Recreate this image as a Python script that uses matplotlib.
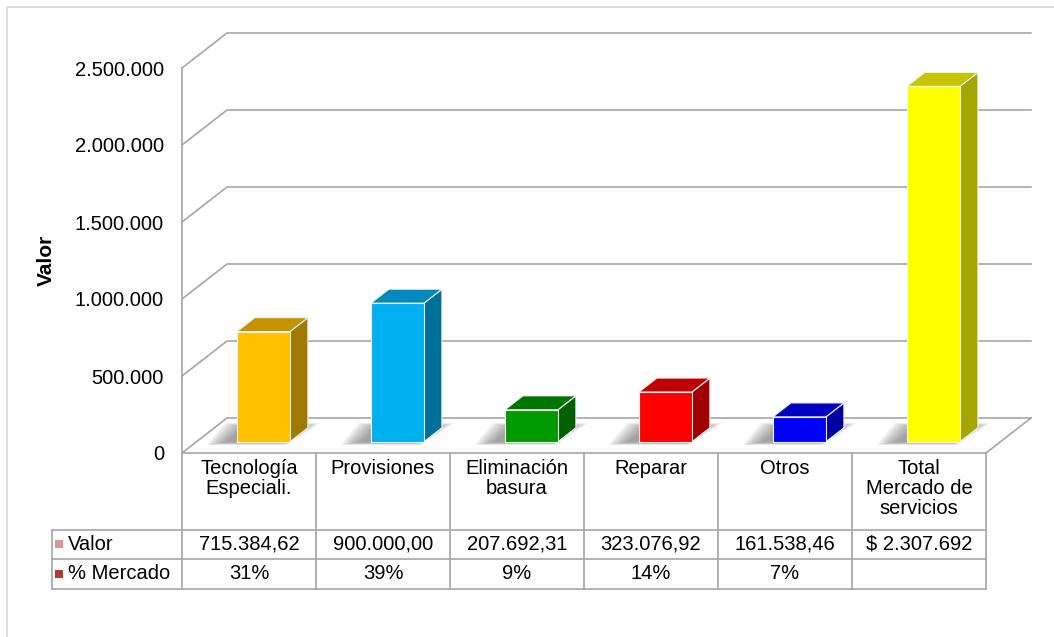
import matplotlib.pyplot as plt
from matplotlib.patches import Polygon, Rectangle
from matplotlib.ticker import FuncFormatter
from matplotlib.transforms import blended_transform_factory

plt.rcParams['font.family'] = ['Liberation Sans', 'DejaVu Sans']

# datos del mercado de servicios
categorias = ['Tecnología\nEspeciali.', 'Provisiones', 'Eliminación\nbasura',
              'Reparar', 'Otros', 'Total\nMercado de\nservicios']
valores = [715384.62, 900000.00, 207692.31, 323076.92, 161538.46, 2307692]
textos_valor = ['715.384,62', '900.000,00', '207.692,31', '323.076,92',
                '161.538,46', '$ 2.307.692']
pct_mercado = ['31%', '39%', '9%', '14%', '7%', '']
filas = ['Valor', '% Mercado']
yticks = [0, 500000, 1000000, 1500000, 2000000, 2500000]

# colores: frente, tapa, lateral
frente = ['#FFC000', '#00B0F0', '#009A00', '#FF0000', '#0000FF', '#FFFF00']
tapa = ['#C49300', '#0089BE', '#007400', '#C00000', '#0000C4', '#C4C400']
lateral = ['#A07A00', '#006F99', '#006000', '#A00000', '#0000A0', '#A6A600']
color_filas = ['#D99694', '#B03C3A']
gris = '#A6A6A6'
FS = 14.5

W, H, DPI = 1054, 637, 100
fig = plt.figure(figsize=(W / DPI, H / DPI), dpi=DPI)

# marco del área del gráfico
fig.patches.append(Rectangle((7 / W, -0.1), 1.2, 1 - 7 / H + 0.1, transform=fig.transFigure,
                             fill=False, edgecolor='#D9D9D9', lw=1.2))

x0, x1, y0, y1 = 182, 986, 453, 68
ax = fig.add_axes([x0 / W, (H - y0) / H, (x1 - x0) / W, (y0 - y1) / H])
n = len(categorias)
ax.set_xlim(-0.5, n - 0.5)
ax.set_ylim(0, 2500000)

# conversión de píxeles a unidades de datos
ux = n / (x1 - x0)
uy = 2500000 / (y0 - y1)
DX, DY = 45 * ux, 35 * uy

for s in ['top', 'right', 'bottom']:
    ax.spines[s].set_visible(False)
ax.spines['left'].set_color(gris)
ax.spines['left'].set_linewidth(1.2)
ax.set_xticks([])
ax.set_yticks(yticks)
ax.yaxis.set_major_formatter(FuncFormatter(lambda v, p: f'{int(v):,}'.replace(',', '.')))
ax.tick_params(axis='y', length=0, pad=13, labelsize=FS)
ax.set_ylabel('Valor', fontsize=15, fontweight='bold', labelpad=14)

# rejilla en la pared posterior y suelo
for v in yticks:
    ax.plot([-0.5, -0.5 + DX, n - 0.5 + DX], [v, v + DY, v + DY],
            color=gris, lw=1.2, clip_on=False, zorder=1)
ax.plot([n - 0.5, n - 0.5 + DX], [0, DY], color=gris, lw=1.2, clip_on=False, zorder=1)

# barras con efecto 3D
bw = 53 * ux
f0, f1 = 0.32, 0.72
xs = [i + f0 * DX for i in range(n)]
for i, v in enumerate(valores):
    xl, xr = xs[i] - bw / 2, xs[i] + bw / 2
    b0 = f0 * DY
    ddx, ddy = (f1 - f0) * DX, (f1 - f0) * DY
    # sombra difusa sobre el suelo (capas superpuestas)
    sx = -9 * ux
    for k in range(18, 0, -1):
        ex, ey = k * 1.2 * ux, k * 0.45 * uy
        pts = [(xl + sx - ex, b0 - ey * 0.4), (xr + sx + ex * 0.3, b0 - ey * 0.4),
               (xr + ddx + sx + ex, b0 + ddy + ey * 0.6), (xl + ddx + sx - ex, b0 + ddy + ey * 0.6)]
        ax.add_patch(Polygon(pts, closed=True, facecolor='#707070', edgecolor='none',
                             alpha=0.05, clip_on=False, zorder=2))
    top = b0 + v
    ax.add_patch(Polygon([(xr, b0), (xr + ddx, b0 + ddy), (xr + ddx, top + ddy), (xr, top)],
                         closed=True, facecolor=lateral[i], edgecolor='#F2F2F2', lw=0.8,
                         clip_on=False, zorder=3))
    ax.add_patch(Polygon([(xl, top), (xr, top), (xr + ddx, top + ddy), (xl + ddx, top + ddy)],
                         closed=True, facecolor=tapa[i], edgecolor='#F2F2F2', lw=0.8,
                         clip_on=False, zorder=3))
ax.bar(xs, valores, width=bw, bottom=f0 * DY, color=frente, edgecolor='#F2F2F2',
       linewidth=0.8, zorder=4, clip_on=False)

# tabla de datos bajo el gráfico
tr = blended_transform_factory(ax.transData, ax.transAxes)
hpx = y0 - y1
fy = lambda py: (y0 - py) / hpx
row_y = [453, 529.5, 559, 588.5]
leg_x = -0.5 - 130 * ux
kw = dict(transform=tr, color=gris, lw=1.2, clip_on=False)
ax.plot([-0.5, n - 0.5], [fy(row_y[0])] * 2, **kw)
for yy in row_y[1:]:
    ax.plot([leg_x, n - 0.5], [fy(yy)] * 2, **kw)
for j in range(n + 1):
    ax.plot([j - 0.5] * 2, [fy(row_y[0]), fy(row_y[3])], **kw)
ax.plot([leg_x] * 2, [fy(row_y[1]), fy(row_y[3])], **kw)

for i, c in enumerate(categorias):
    ax.text(i, fy(row_y[0] + 6), c, transform=tr, ha='center', va='top',
            multialignment='center', fontsize=FS, linespacing=1.05)
    ax.text(i, fy((row_y[1] + row_y[2]) / 2), textos_valor[i], transform=tr,
            ha='center', va='center', fontsize=FS)
    ax.text(i, fy((row_y[2] + row_y[3]) / 2), pct_mercado[i], transform=tr,
            ha='center', va='center', fontsize=FS)

for r, nombre in enumerate(filas):
    yc = fy((row_y[r + 1] + row_y[r + 2]) / 2)
    ax.add_patch(Rectangle((leg_x + 3 * ux, yc - 4 / hpx), 8 * ux, 8 / hpx, transform=tr,
                           facecolor=color_filas[r], edgecolor='none', clip_on=False))
    ax.text(leg_x + 16 * ux, yc, nombre, transform=tr, ha='left', va='center', fontsize=FS)

fig.savefig('out.png', dpi=DPI)
